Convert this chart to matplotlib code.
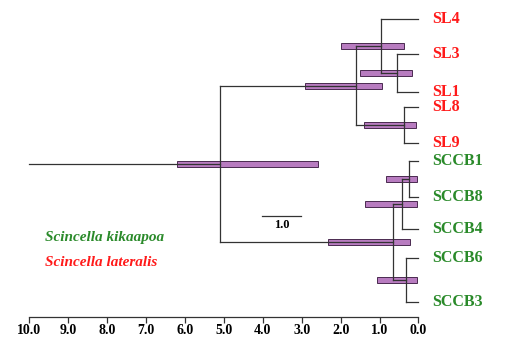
import matplotlib
matplotlib.use("Agg")
import matplotlib.pyplot as plt
from matplotlib.patches import Rectangle

plt.rcParams['font.family'] = ['Liberation Serif', 'DejaVu Serif']

# ---- data ----
tips = ["SL4", "SL3", "SL1", "SL8", "SL9", "SCCB1", "SCCB8", "SCCB4", "SCCB6", "SCCB3"]
tip_species = ["lat", "lat", "lat", "lat", "lat", "kik", "kik", "kik", "kik", "kik"]
# internal nodes: name, children, age (Ma), HPD low, HPD high
node_names = ["n31", "n_SL4", "n_SL89", "n_SL", "n_C18", "n_C184", "n_C63", "n_C", "root"]
node_children = [("SL3", "SL1"), ("SL4", "n31"), ("SL8", "SL9"), ("n_SL4", "n_SL89"),
                 ("SCCB1", "SCCB8"), ("n_C18", "SCCB4"), ("SCCB6", "SCCB3"),
                 ("n_C184", "n_C63"), ("n_SL", "n_C")]
node_age = [0.55, 0.96, 0.37, 1.60, 0.24, 0.42, 0.32, 0.65, 5.10]
node_hpd_low = [0.17, 0.37, 0.06, 0.94, 0.04, 0.04, 0.04, 0.22, 2.58]
node_hpd_high = [1.50, 1.99, 1.40, 2.91, 0.83, 1.37, 1.07, 2.32, 6.20]
root_stem_start = 10.0
axis_ticks = [10, 9, 8, 7, 6, 5, 4, 3, 2, 1, 0]

# ---- layout (tip rows, in figure-pixel units from top) ----
tip_rows = [19, 54, 92, 107, 143, 161, 197, 229, 258, 302]

RED = "#ff1a1a"
GREEN = "#2a8a2a"
LINE = "#333333"
BAR_FILL = "#b87cc0"
BAR_EDGE = "#4a2a50"

fig = plt.figure(figsize=(5.11, 3.41), dpi=100)
ax = fig.add_axes([0, 0, 1, 1])
ax.set_xlim(10.745, -2.375)
ax.set_ylim(341, 0)

ypos = {t: y for t, y in zip(tips, tip_rows)}
age = {t: 0.0 for t in tips}
for name, ch, a in zip(node_names, node_children, node_age):
    ypos[name] = (ypos[ch[0]] + ypos[ch[1]]) / 2.0
    age[name] = a

parent = {}
for name, ch in zip(node_names, node_children):
    for c in ch:
        parent[c] = name

lw = 0.9
# HPD bars
for name, lo, hi in zip(node_names, node_hpd_low, node_hpd_high):
    ax.add_patch(Rectangle((lo, ypos[name] - 3), hi - lo, 6, facecolor=BAR_FILL,
                           edgecolor=BAR_EDGE, linewidth=0.7, zorder=1))

# branches
for name, ch in zip(node_names, node_children):
    ax.plot([age[name], age[name]], [ypos[ch[0]], ypos[ch[1]]], color=LINE, lw=lw, zorder=2)
for n, p in parent.items():
    ax.plot([age[p], age[n]], [ypos[n], ypos[n]], color=LINE, lw=lw, zorder=2)
ax.plot([root_stem_start, age["root"]], [ypos["root"], ypos["root"]], color=LINE, lw=lw, zorder=2)

# tip labels
for t, sp in zip(tips, tip_species):
    ax.text(-0.35, ypos[t], t, color=RED if sp == "lat" else GREEN, fontsize=11.5,
            fontweight="bold", ha="left", va="center")

# species legend
ax.text(9.59, 238, "Scincella kikaapoa", color=GREEN, fontsize=11, fontweight="bold",
        fontstyle="italic", ha="left", va="center")
ax.text(9.59, 263, "Scincella lateralis", color=RED, fontsize=11, fontweight="bold",
        fontstyle="italic", ha="left", va="center")

# scale bar
ax.plot([4.02, 3.02], [216, 216], color=LINE, lw=lw)
ax.text(3.52, 225, "1.0", fontsize=9, fontweight="bold", ha="center", va="center")

# time axis
for s in ["top", "left", "right"]:
    ax.spines[s].set_visible(False)
ax.spines["bottom"].set_position(("data", 317))
ax.spines["bottom"].set_bounds(0, 10)
ax.spines["bottom"].set_color(LINE)
ax.spines["bottom"].set_linewidth(lw)
ax.set_xticks(axis_ticks)
ax.set_xticklabels([f"{v:.1f}" for v in axis_ticks], fontsize=10, fontweight="bold")
ax.tick_params(axis="x", direction="out", length=4, width=lw, color=LINE, pad=1)
ax.set_yticks([])

fig.savefig("out.png", dpi=100)
